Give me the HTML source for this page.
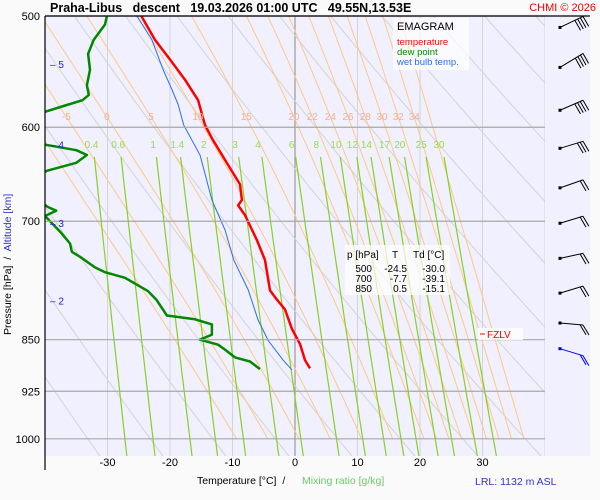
<!DOCTYPE html>
<html><head><meta charset="utf-8">
<style>
body{margin:0;background:#fff;font-family:"Liberation Sans",sans-serif;}
svg{display:block;}
</style></head>
<body>
<svg id="chart" width="600" height="500" xmlns="http://www.w3.org/2000/svg">
<rect x="0" y="0" width="600" height="500" fill="#fafafa"/>
<rect x="45" y="16" width="545" height="440" fill="#f0f0fe"/>
<defs><clipPath id="pc"><rect x="45" y="16" width="500" height="440"/></clipPath></defs>
<g id="bg" clip-path="url(#pc)"></g>
<g id="series" clip-path="url(#pc)"></g>
<g id="labels"></g>
<line x1="45" y1="16" x2="590" y2="16" stroke="#000" stroke-width="1.2"/>
<line x1="45" y1="16" x2="45" y2="470" stroke="#000" stroke-width="1.2"/>
<text x="50" y="12" font-size="12.5" font-weight="bold" xml:space="preserve">Praha-Libus   descent   19.03.2026 01:00 UTC   49.55N,13.53E</text>
<text x="596" y="11" font-size="11" fill="#e00" text-anchor="end">CHMI © 2026</text>
<g>
<rect x="393" y="18" width="76" height="52" fill="#fff" opacity="0.7"/>
<text x="397" y="30" font-size="11">EMAGRAM</text>
<text x="397" y="45" font-size="9.5" fill="#f00">temperature</text>
<text x="397" y="55" font-size="9.5" fill="#080">dew point</text>
<text x="397" y="65" font-size="9.5" fill="#2a6ef0">wet bulb temp.</text>
</g>
<g font-size="10">
<rect x="345" y="245" width="105" height="50" fill="#fff" opacity="0.7"/>
<text x="347" y="258">p [hPa]</text><text x="392" y="258">T</text><text x="413" y="258">Td [°C]</text>
<text x="372" y="272" text-anchor="end">500</text><text x="407" y="272" text-anchor="end">-24.5</text><text x="445" y="272" text-anchor="end">-30.0</text>
<text x="372" y="282" text-anchor="end">700</text><text x="407" y="282" text-anchor="end">-7.7</text><text x="445" y="282" text-anchor="end">-39.1</text>
<text x="372" y="292" text-anchor="end">850</text><text x="407" y="292" text-anchor="end">0.5</text><text x="445" y="292" text-anchor="end">-15.1</text>
</g>
<g>
<rect x="478" y="328" width="45" height="12" fill="#fff" opacity="0.8"/>
<line x1="480" y1="334" x2="485" y2="334" stroke="#f00"/>
<text x="487" y="338" font-size="10" fill="#f00">FZLV</text>
</g>
<text x="197" y="484" font-size="10.5" xml:space="preserve">Temperature [°C]  /</text>
<text x="302" y="484" font-size="10.5" fill="#6c6">Mixing ratio [g/kg]</text>
<text x="475" y="485" font-size="10.5" fill="#33c">LRL: 1132 m ASL</text>
<text transform="translate(11,335) rotate(-90)" font-size="10.5" xml:space="preserve">Pressure [hPa]  /  <tspan fill="#33c">Altitude [km]</tspan></text>
<g id="barbs"></g>
</svg>
<script>
const tempP=[500,520,537,555,574,598,613,633,659,676,682,693,705,722,746,784,796,809,835,856,879,891];
const tempT=[-24.6,-22.4,-20,-17.6,-15.5,-14.4,-13.1,-11.2,-8.8,-8.5,-9.1,-8.0,-7.2,-6.1,-4.8,-4.0,-2.9,-1.6,-0.5,0.8,1.6,2.4];
const wetP=[500,520,546,564,578,598,628,633,676,710,746,783,823,851,879,893];
const wetT=[-25.3,-22.9,-21.1,-19.7,-18.7,-17.8,-15.2,-15.0,-13.3,-11.2,-9.8,-7.5,-5.9,-4.3,-1.9,-0.5];
const dewP=[500,507,520,532,546,560,569,574,580,585,593,613,618,623,628,636,644,660,684,688,694,712,726,736,742,755,761,768,785,796,817,822,829,843,850,852,857,864,875,881,892];
const dewT=[-30.1,-30.4,-32.2,-33.1,-32.8,-33.3,-33.0,-34.0,-37.3,-40,-45,-45,-39.5,-35,-33.3,-35,-39.5,-45,-39.5,-38.2,-40,-37.6,-36,-35.7,-34.4,-32,-30.4,-27.2,-23.5,-22.2,-20.5,-16,-13.3,-13.3,-15.2,-14.4,-12.3,-11.2,-9.6,-7.2,-5.6];
const pTicks=[500,600,700,850,925,1000];
const tTicks=[-30,-20,-10,0,10,20,30];
const altKm=[5,4,3,2];
const altP=[541,617,702,797];
const mixW=[0.4,0.6,1,1.4,2,3,4,6,8,10,12,14,17,20,25,30];
const thetaW=[-10,-5,0,5,10,15,20,22,24,26,28,30,32,34,36];
const thetaWLab=[-5,0,5,10,15,20,22,24,26,28,30,32,34];
const windDy=[-11,-14,-10,-7,-8,-7,-5,-7,2,7];
const windBarbs=[4,4,4,3,2,2,2,2,2,2];
const windP=[502,536,575,612,653,692,733,776,815,850];

const NS='http://www.w3.org/2000/svg';
const X=t=>295+6.25*t;
const Y=p=>16+610*Math.log(p/500);
function mk(tag,attrs,parent){const e=document.createElementNS(NS,tag);for(const k in attrs)e.setAttribute(k,attrs[k]);parent.appendChild(e);return e;}
const bg=document.getElementById('bg'),se=document.getElementById('series'),lb=document.getElementById('labels'),bb=document.getElementById('barbs');
function pathFrom(ps,ts){return ps.map((p,i)=>(i?'L':'M')+X(ts[i]).toFixed(1)+','+Y(p).toFixed(1)).join(' ');}
for(let t=-40;t<=40;t+=10){const l=mk('line',{x1:X(t),x2:X(t),y1:16,y2:456,stroke:t===0?'#999':'#d4d4d4','stroke-width':t===0?1.2:1},bg);

}
for(let th=240;th<=420;th+=10){let d='';for(let p=480;p<=1050;p+=10){const t=th*Math.pow(p/1000,0.286)-273.15;d+=(d?'L':'M')+X(t).toFixed(1)+','+Y(p).toFixed(1);}
const l=mk('path',{d:d,fill:'none',stroke:'#d4d4d4','stroke-width':1},bg);

}
function es(t){return 6.112*Math.exp(17.67*t/(t+243.5));}
function moist(tw){const pts=[];let T=tw+273.15,p=1000;pts.push([p,T]);
 while(p>480){const e=es(T-273.15);const rs=0.622*e/(p-e);const Lv=2.5e6,Rd=287,cp=1005;
 const dTdlnp=(Rd*T+Lv*rs)/(cp+Lv*Lv*rs*0.622/(Rd*T*T));const dp=-5;T+=dTdlnp*Math.log((p+dp)/p);p+=dp;pts.push([p,T]);}
 return pts;}
const moistCache={};
thetaW.forEach(tw=>{const pts=moist(tw);moistCache[tw]=pts;const d=pts.map((q,i)=>(i?'L':'M')+(X(q[1]-273.15)+4).toFixed(1)+','+Y(q[0]).toFixed(1)).join(' ');
const l=mk('path',{d:d,fill:'none',stroke:'#ffc888','stroke-width':1},bg);

});
function tmix(w,p){const e=w*p/(622+w);const a=Math.log(e/6.112);return 243.5*a/(17.67-a);}
mixW.forEach(w=>{let d='';for(let p=630;p<=1040;p+=10){d+=(d?'L':'M')+(X(tmix(w,p))+2).toFixed(1)+','+Y(p).toFixed(1);}
const l=mk('path',{d:d,fill:'none',stroke:'#8ad020','stroke-width':1.2},bg);


const t=mk('text',{x:X(tmix(w,594))+3,y:Y(620)+1,'font-size':10,fill:'#99dd44','text-anchor':'middle'},lb);t.textContent=w;

});
pTicks.forEach(p=>{const l=mk('line',{x1:45,x2:545,y1:Y(p),y2:Y(p),stroke:'#a8a8a8','stroke-width':1.2},lb);


const t=mk('text',{x:40,y:Y(p)+4,'font-size':11,'text-anchor':'end'},lb);t.textContent=p;

});
thetaWLab.forEach(tw=>{const pts=moistCache[tw];let q=pts.find(z=>z[0]<=594);const t=mk('text',{x:X(q[1]-273.15)+4,y:Y(594)-1,'font-size':10,fill:'#f4b090','text-anchor':'middle'},lb);t.textContent=tw;

});
tTicks.forEach(v=>{const t=mk('text',{x:X(v),y:466,'font-size':11,'text-anchor':'middle'},lb);t.textContent=v;

});
altKm.forEach((k,i)=>{const t=mk('text',{x:50,y:Y(altP[i])+4,'font-size':10,fill:'#22c'},lb);t.textContent='– '+k;

});
const sw=mk('path',{d:pathFrom(wetP,wetT),fill:'none',stroke:'#2a6ef0','stroke-width':1},se);


const sd=mk('path',{d:pathFrom(dewP,dewT),fill:'none',stroke:'#080','stroke-width':2.5,'stroke-linejoin':'round'},se);


const st=mk('path',{d:pathFrom(tempP,tempT),fill:'none',stroke:'#f00','stroke-width':2.5,'stroke-linejoin':'round'},se);


windP.forEach((p,i)=>{const y=Y(p)+9,x0=560,x1=583,y1=y+windDy[i];const col=i===windP.length-1?'#00f':'#000';
const g=mk('g',{stroke:col,'stroke-width':1,fill:'none'},bb);


mk('rect',{x:x0-1.5,y:y-1.5,width:3,height:3,fill:col,stroke:'none'},g);
mk('line',{x1:x0,y1:y,x2:x1,y2:y1},g);
const ux=(x1-x0),uy=(y1-y),L=Math.hypot(ux,uy),dx=ux/L,dy=uy/L;
for(let k=0;k<windBarbs[i];k++){const bx=x1-dx*3*k,by=y1-dy*3*k;mk('line',{x1:bx,y1:by,x2:bx+dy*-1*-1*0+dx*3+(-dy)*-0+ (dy>=0?3:3),y2:by+10},g);}
});
</script>
</body></html>
